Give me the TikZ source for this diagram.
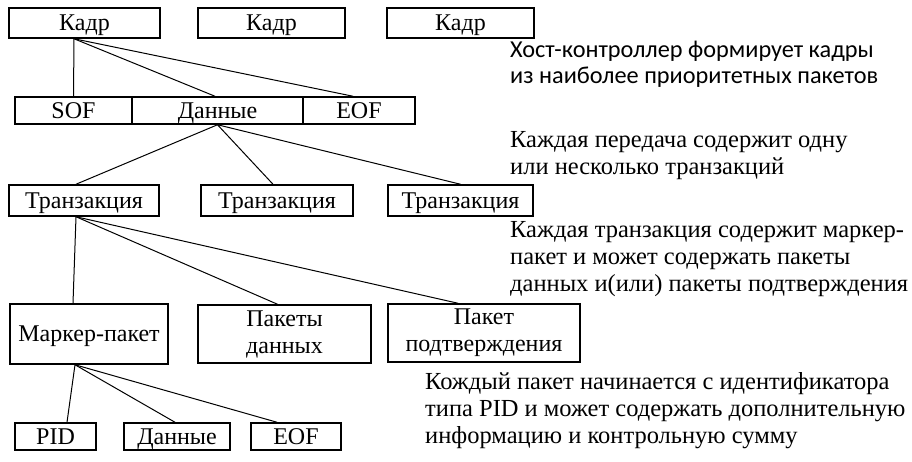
\documentclass[tikz,border=0pt]{standalone}
\usepackage{fontspec}
\setmainfont{Liberation Serif}
\newfontfamily\calfont{Carlito}
\begin{document}
\begin{tikzpicture}[x=1pt,y=-1pt,
  bx/.style={draw,line width=1.5pt,inner sep=0pt,font=\fontsize{24}{27}\selectfont,align=center},
  bxa/.style={bx,text height=17pt,text depth=2pt},
  cn/.style={line width=1pt},
  note/.style={inner sep=0pt,anchor=base west,align=left,font=\fontsize{24.5}{27}\selectfont},
  notec/.style={inner sep=0pt,anchor=base west,align=left,font=\calfont\fontsize{24.3}{26}\selectfont}]
\useasboundingbox (0,0) rectangle (912,461);
% row 1
\node[bxa,minimum width=151pt,minimum height=30pt] (k1) at (84.5,23) {Кадр};
\node[bxa,minimum width=147pt,minimum height=30pt] (k2) at (271.5,23) {Кадр};
\node[bxa,minimum width=147pt,minimum height=30pt] (k3) at (460.5,23) {Кадр};
% row 2
\node[bxa,minimum width=117pt,minimum height=27pt] (sof) at (73.5,110.5) {SOF};
\node[bxa,minimum width=171pt,minimum height=27pt] (dat) at (217.5,110.5) {Данные};
\node[bxa,minimum width=112pt,minimum height=27pt] (eof) at (359,110.5) {EOF};
% row 3
\node[bxa,minimum width=150pt,minimum height=31pt] (t1) at (84,200.5) {Транзакция};
\node[bxa,minimum width=152pt,minimum height=31pt] (t2) at (277,200.5) {Транзакция};
\node[bxa,minimum width=145pt,minimum height=31pt] (t3) at (460.5,200.5) {Транзакция};
% row 4
\node[bxa,minimum width=158pt,minimum height=60pt] (mk) at (89,334) {Маркер-пакет};
\node[bx,minimum width=173pt,minimum height=58pt] (pd) at (284.5,334) {Пакеты\\данных};
\node[bx,minimum width=192pt,minimum height=58pt] (pp) at (484,333) {Пакет\\подтверждения};
% row 5
\node[bxa,minimum width=81pt,minimum height=27pt] (pid) at (55.5,436.5) {PID};
\node[bxa,minimum width=106pt,minimum height=27pt] (d2) at (177,436.5) {Данные};
\node[bxa,minimum width=90pt,minimum height=27pt] (e2) at (296,436.5) {EOF};
% connectors
\draw[cn] ([xshift=-10.5pt]k1.south) -- (sof.north);
\draw[cn] ([xshift=-10.5pt]k1.south) -- ([xshift=-2.5pt]dat.north);
\draw[cn] ([xshift=-10.5pt]k1.south) -- ([xshift=-6pt]eof.north);
\draw[cn] (dat.south) -- ([xshift=-8pt]t1.north);
\draw[cn] (dat.south) -- ([xshift=-4pt]t2.north);
\draw[cn] (dat.south) -- (t3.north);
\draw[cn] ([xshift=-8pt]t1.south) -- ([xshift=-16pt]mk.north);
\draw[cn] ([xshift=-8pt]t1.south) -- ([xshift=-7pt]pd.north);
\draw[cn] ([xshift=-8pt]t1.south) -- ([xshift=-26pt]pp.north);
\draw[cn] ([xshift=-14pt]mk.south) -- ([xshift=11.5pt]pid.north);
\draw[cn] ([xshift=-14pt]mk.south) -- ([xshift=-2pt]d2.north);
\draw[cn] ([xshift=-14pt]mk.south) -- ([xshift=-19pt]e2.north);
% notes (anchor = baseline of last line)
\node[notec] (n1) at (510,83) {Хост-контроллер формирует кадры\\из наиболее приоритетных пакетов};
\node[note] (n2) at (510,174) {Каждая передача содержит одну\\или несколько транзакций};
\node[note] (n3) at (510,291) {Каждая транзакция содержит маркер-\\пакет и может содержать пакеты\\данных и(или) пакеты подтверждения};
\node[note] (n4) at (425,443) {Кождый пакет начинается с идентификатора\\типа PID и может содержать дополнительную\\информацию и контрольную сумму};
\end{tikzpicture}
\end{document}
